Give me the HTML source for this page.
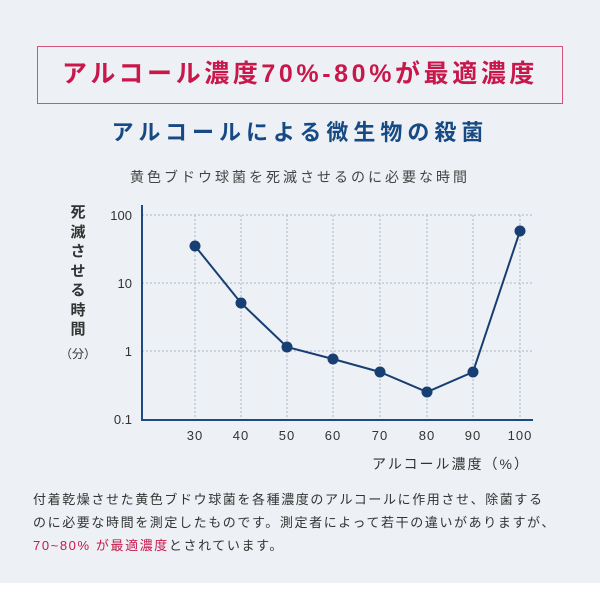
<!DOCTYPE html>
<html><head><meta charset="utf-8"><style>
body{margin:0;width:600px;height:600px;background:#fff;overflow:hidden;font-family:"Liberation Sans","Noto Sans CJK JP",sans-serif}
#bg{position:absolute;left:0;top:0;width:600px;height:583px;background:#edf1f5}
.abs{position:absolute;white-space:nowrap}
#box{position:absolute;left:37px;top:46px;width:524px;height:56px;border:1px solid #d2547a}
#t1{left:37px;width:526px;top:58px;text-align:center;color:#c8174b;font-weight:bold;font-size:25px;letter-spacing:3.6px;line-height:32px}
#t2{left:0;width:600px;top:118px;text-align:center;color:#174a85;font-weight:bold;font-size:22px;letter-spacing:5px;line-height:30px}
#t3{left:0;width:600px;top:166px;text-align:center;color:#444;font-size:14px;letter-spacing:3px;line-height:22px}
#p{left:33px;top:488px;color:#333;font-size:13px;letter-spacing:1.6px;line-height:23px}
.r{color:#c8174b}
</style></head><body>
<div id="bg"></div>
<div id="box"></div>
<div class="abs" id="t1">アルコール濃度70%-80%が最適濃度</div>
<div class="abs" id="t2">アルコールによる微生物の殺菌</div>
<div class="abs" id="t3">黄色ブドウ球菌を死滅させるのに必要な時間</div>
<svg class="abs" style="left:0;top:0" width="600" height="600">
<g font-family="Liberation Sans, Noto Sans CJK JP, sans-serif">
<g stroke="#a9b6c6" stroke-width="1" stroke-dasharray="2,2">
<line x1="142" y1="215" x2="533" y2="215"/><line x1="142" y1="283" x2="533" y2="283"/><line x1="142" y1="351" x2="533" y2="351"/>
<line x1="195" y1="215" x2="195" y2="419"/><line x1="241" y1="215" x2="241" y2="419"/><line x1="287" y1="215" x2="287" y2="419"/><line x1="333" y1="215" x2="333" y2="419"/><line x1="380" y1="215" x2="380" y2="419"/><line x1="427" y1="215" x2="427" y2="419"/><line x1="473" y1="215" x2="473" y2="419"/><line x1="520" y1="215" x2="520" y2="419"/>
</g>
<polyline points="142,205 142,420 533,420" fill="none" stroke="#1d4a80" stroke-width="2"/>
<polyline points="195,246 241,303 287,347 333,359 380,372 427,392 473,372 520,231" fill="none" stroke="#173f73" stroke-width="2"/>
<g fill="#173f73"><circle cx="195" cy="246" r="5.5"/><circle cx="241" cy="303" r="5.5"/><circle cx="287" cy="347" r="5.5"/><circle cx="333" cy="359" r="5.5"/><circle cx="380" cy="372" r="5.5"/><circle cx="427" cy="392" r="5.5"/><circle cx="473" cy="372" r="5.5"/><circle cx="520" cy="231" r="5.5"/></g>
<g fill="#333" font-size="13" text-anchor="end"><text x="132" y="220">100</text><text x="132" y="288">10</text><text x="132" y="356">1</text><text x="132" y="424">0.1</text></g>
<g fill="#333" font-size="13" text-anchor="middle" letter-spacing="1"><text x="195" y="440">30</text><text x="241" y="440">40</text><text x="287" y="440">50</text><text x="333" y="440">60</text><text x="380" y="440">70</text><text x="427" y="440">80</text><text x="473" y="440">90</text><text x="520" y="440">100</text></g>
<text x="530" y="469" text-anchor="end" fill="#333" font-size="14" letter-spacing="2">アルコール濃度（%）</text>
<g fill="#333" font-size="15" font-weight="bold" text-anchor="middle"><text x="78" y="217">死</text><text x="78" y="237">滅</text><text x="78" y="256">さ</text><text x="78" y="276">せ</text><text x="78" y="295">る</text><text x="78" y="315">時</text><text x="78" y="334">間</text></g>
<text x="78" y="358" fill="#333" font-size="12" text-anchor="middle">（分）</text>
</g></svg>
<div class="abs" id="p">付着乾燥させた黄色ブドウ球菌を各種濃度のアルコールに作用させ、除菌する<br>のに必要な時間を測定したものです。測定者によって若干の違いがありますが、<br><span class="r">70~80% が最適濃度</span>とされています。</div>
</body></html>
